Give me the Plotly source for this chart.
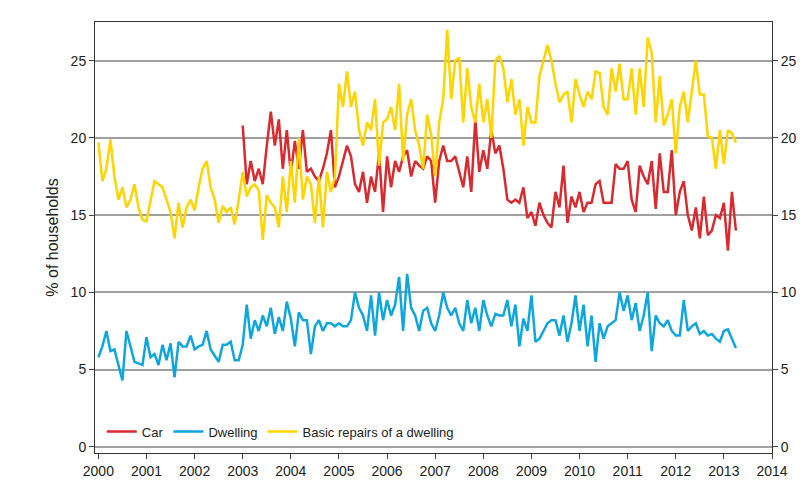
import plotly.graph_objects as go

# monthly values, Jan 2000 onwards (car starts Jan 2003)
car = [20.8,17,18.5,17.2,18,17,19.5,21.7,19.5,21.2,18,20.5,
       17.7,19.8,18,20.5,17.8,18,17.5,17.2,18,19,20.5,16.8,
       17.5,18.5,19.5,18.8,17,16.5,17.8,15.8,17.5,16.5,19,15.2,
       18.8,16.8,18.5,17.8,18.8,19.2,17.5,18.5,18.2,18,18.8,18.5,
       15.8,18.5,19.5,18.5,18.5,18.8,17.8,16.8,18.8,16.5,21.2,17.8,
       19.2,18,20.5,19,19.5,18,16,15.8,16,15.8,16.8,14.8,
       15.2,14.3,15.8,15,14.5,14.2,16.5,15.5,18.2,14.5,16.2,15.5,
       16.5,15.2,15.8,15.8,17,17.2,15.8,15.8,15.8,18.3,18,18,
       18.5,16,15.2,18.2,17.5,17,18.5,15.4,19,16.5,16.5,19.2,
       15,16.5,17.2,15,14,15.5,13.5,16.2,13.7,14,15,14.8,
       15.8,12.7,16.5,14]
dwelling = [5.8,6.5,7.5,6.2,6.3,5.2,4.3,7.5,6.5,5.5,5.4,5.3,
            7.1,5.8,6,5.3,6.6,5.6,6.7,4.5,6.8,6.5,6.5,7.2,
            6.3,6.5,6.6,7.5,6.3,5.9,5.5,6.6,6.6,6.8,5.6,5.6,
            6.6,9.2,7,8.2,7.5,8.5,7.8,9,7.3,8.4,7.5,9.4,
            8.3,6.5,8.7,8.2,8.2,6,7.8,8.2,7.5,8,8,7.8,
            8,7.8,7.8,8.2,10,9,8.5,7.5,9.8,7.2,10,8.2,
            9.5,8.5,9.2,11,7.5,11.2,9,8.5,7.5,8.8,9,8,
            7.5,8.5,10,9,8.5,9,8,7.5,9.5,8,9,7.5,
            9.5,8.5,7.8,8.6,8.5,8.5,9.5,7.8,9.2,6.5,8.3,7.5,
            9.8,6.8,7,7.5,8,8.2,8.2,7.2,8.5,6.8,8,9.8,
            7.5,9.2,6.5,8.5,5.5,8,7,7.8,8,8.2,10,8.8,
            9.8,8.2,9.3,7.5,8.5,10,6.2,8.5,8,7.8,8.2,7.5,
            7.2,7.2,9.5,7.5,7.8,8,7.3,7.5,7.2,7.3,7,6.8,
            7.5,7.6,7,6.4]
repairs = [19.7,17.2,18,19.9,17.5,16,16.8,15.5,16,17,15.5,14.7,
           14.6,15.8,17.2,17,16.8,16,15.2,13.5,15.8,14.2,15.5,16,
           15.3,16.8,18,18.5,16.8,16,14.5,15.6,15.2,15.5,14.4,16,
           17.8,16.2,16.8,17,16.6,13.4,16.3,15.8,15.5,14.2,17.5,15.2,
           18.5,15.8,20,16,17.5,17,14.5,17.5,14.2,17.8,16.5,17.5,
           23.5,22,24.3,22,23,20.5,19.5,21,20.5,22.5,18.2,21,
           21.2,22,20.5,23.5,18.5,21.5,22.5,20.5,19.5,18,21.5,20.2,
           17.5,21,22.5,27,22.5,25,25.2,21,24.5,22,21,23.5,
           21,22.5,20,25,25.3,24.5,22.3,23.8,21.5,22.5,19.5,22,
           21,21,24,25,26,25,23.5,22.3,22.8,23,21,23.8,
           22.8,22,23,22.5,24.3,24.2,22,21.5,24.5,23,24.8,22.5,
           22.5,24.5,21.5,24.5,22,26.5,25.5,21,24,20.8,21.5,22.5,
           19,22,23,21,23,25,22.8,22.8,20.1,20,18,20.5,
           18.3,20.5,20.3,19.7]

x_all = [2000 + i / 12 for i in range(len(dwelling))]
x_car = [2003 + i / 12 for i in range(len(car))]

fig = go.Figure()
fig.add_trace(go.Scatter(x=x_car, y=car, name="Car", mode="lines",
                         line=dict(color="#d92b2f", width=2.5)))
fig.add_trace(go.Scatter(x=x_all, y=dwelling, name="Dwelling", mode="lines",
                         line=dict(color="#0fa6e0", width=2.5)))
fig.add_trace(go.Scatter(x=x_all, y=repairs, name="Basic repairs of a dwelling", mode="lines",
                         line=dict(color="#ffd400", width=2.5)))
# invisible trace for the right axis
fig.add_trace(go.Scatter(x=[2000], y=[0], yaxis="y2", showlegend=False,
                         mode="markers", marker=dict(opacity=0), hoverinfo="skip"))

yax = dict(range=[-0.4, 27.5], tickvals=[0, 5, 10, 15, 20, 25], ticks="outside",
           ticklen=5, showline=True, linecolor="#333", zeroline=False,
           tickfont=dict(size=14, color="#222"))
fig.update_layout(
    width=807, height=495, template="none",
    font=dict(family="Liberation Sans, Arial", color="#222"),
    margin=dict(l=87, r=43, t=14, b=50),
    plot_bgcolor="white",
    xaxis=dict(range=[1999.93, 2014], dtick=1, tick0=2000, ticks="outside", ticklen=5,
               showline=True, linecolor="#333", mirror=True, showgrid=False,
               tickfont=dict(size=14, color="#222"), zeroline=False),
    yaxis=dict(**yax, showgrid=True, gridcolor="#a0a0a0", gridwidth=1.5,
               title=dict(text="% of households", font=dict(size=16), standoff=8)),
    yaxis2=dict(**yax, overlaying="y", side="right", showgrid=False),
    legend=dict(orientation="h", x=0.01, y=0.015, xanchor="left", yanchor="bottom",
                bgcolor="rgba(0,0,0,0)", font=dict(size=13)),
)
fig.write_html("out.html")
